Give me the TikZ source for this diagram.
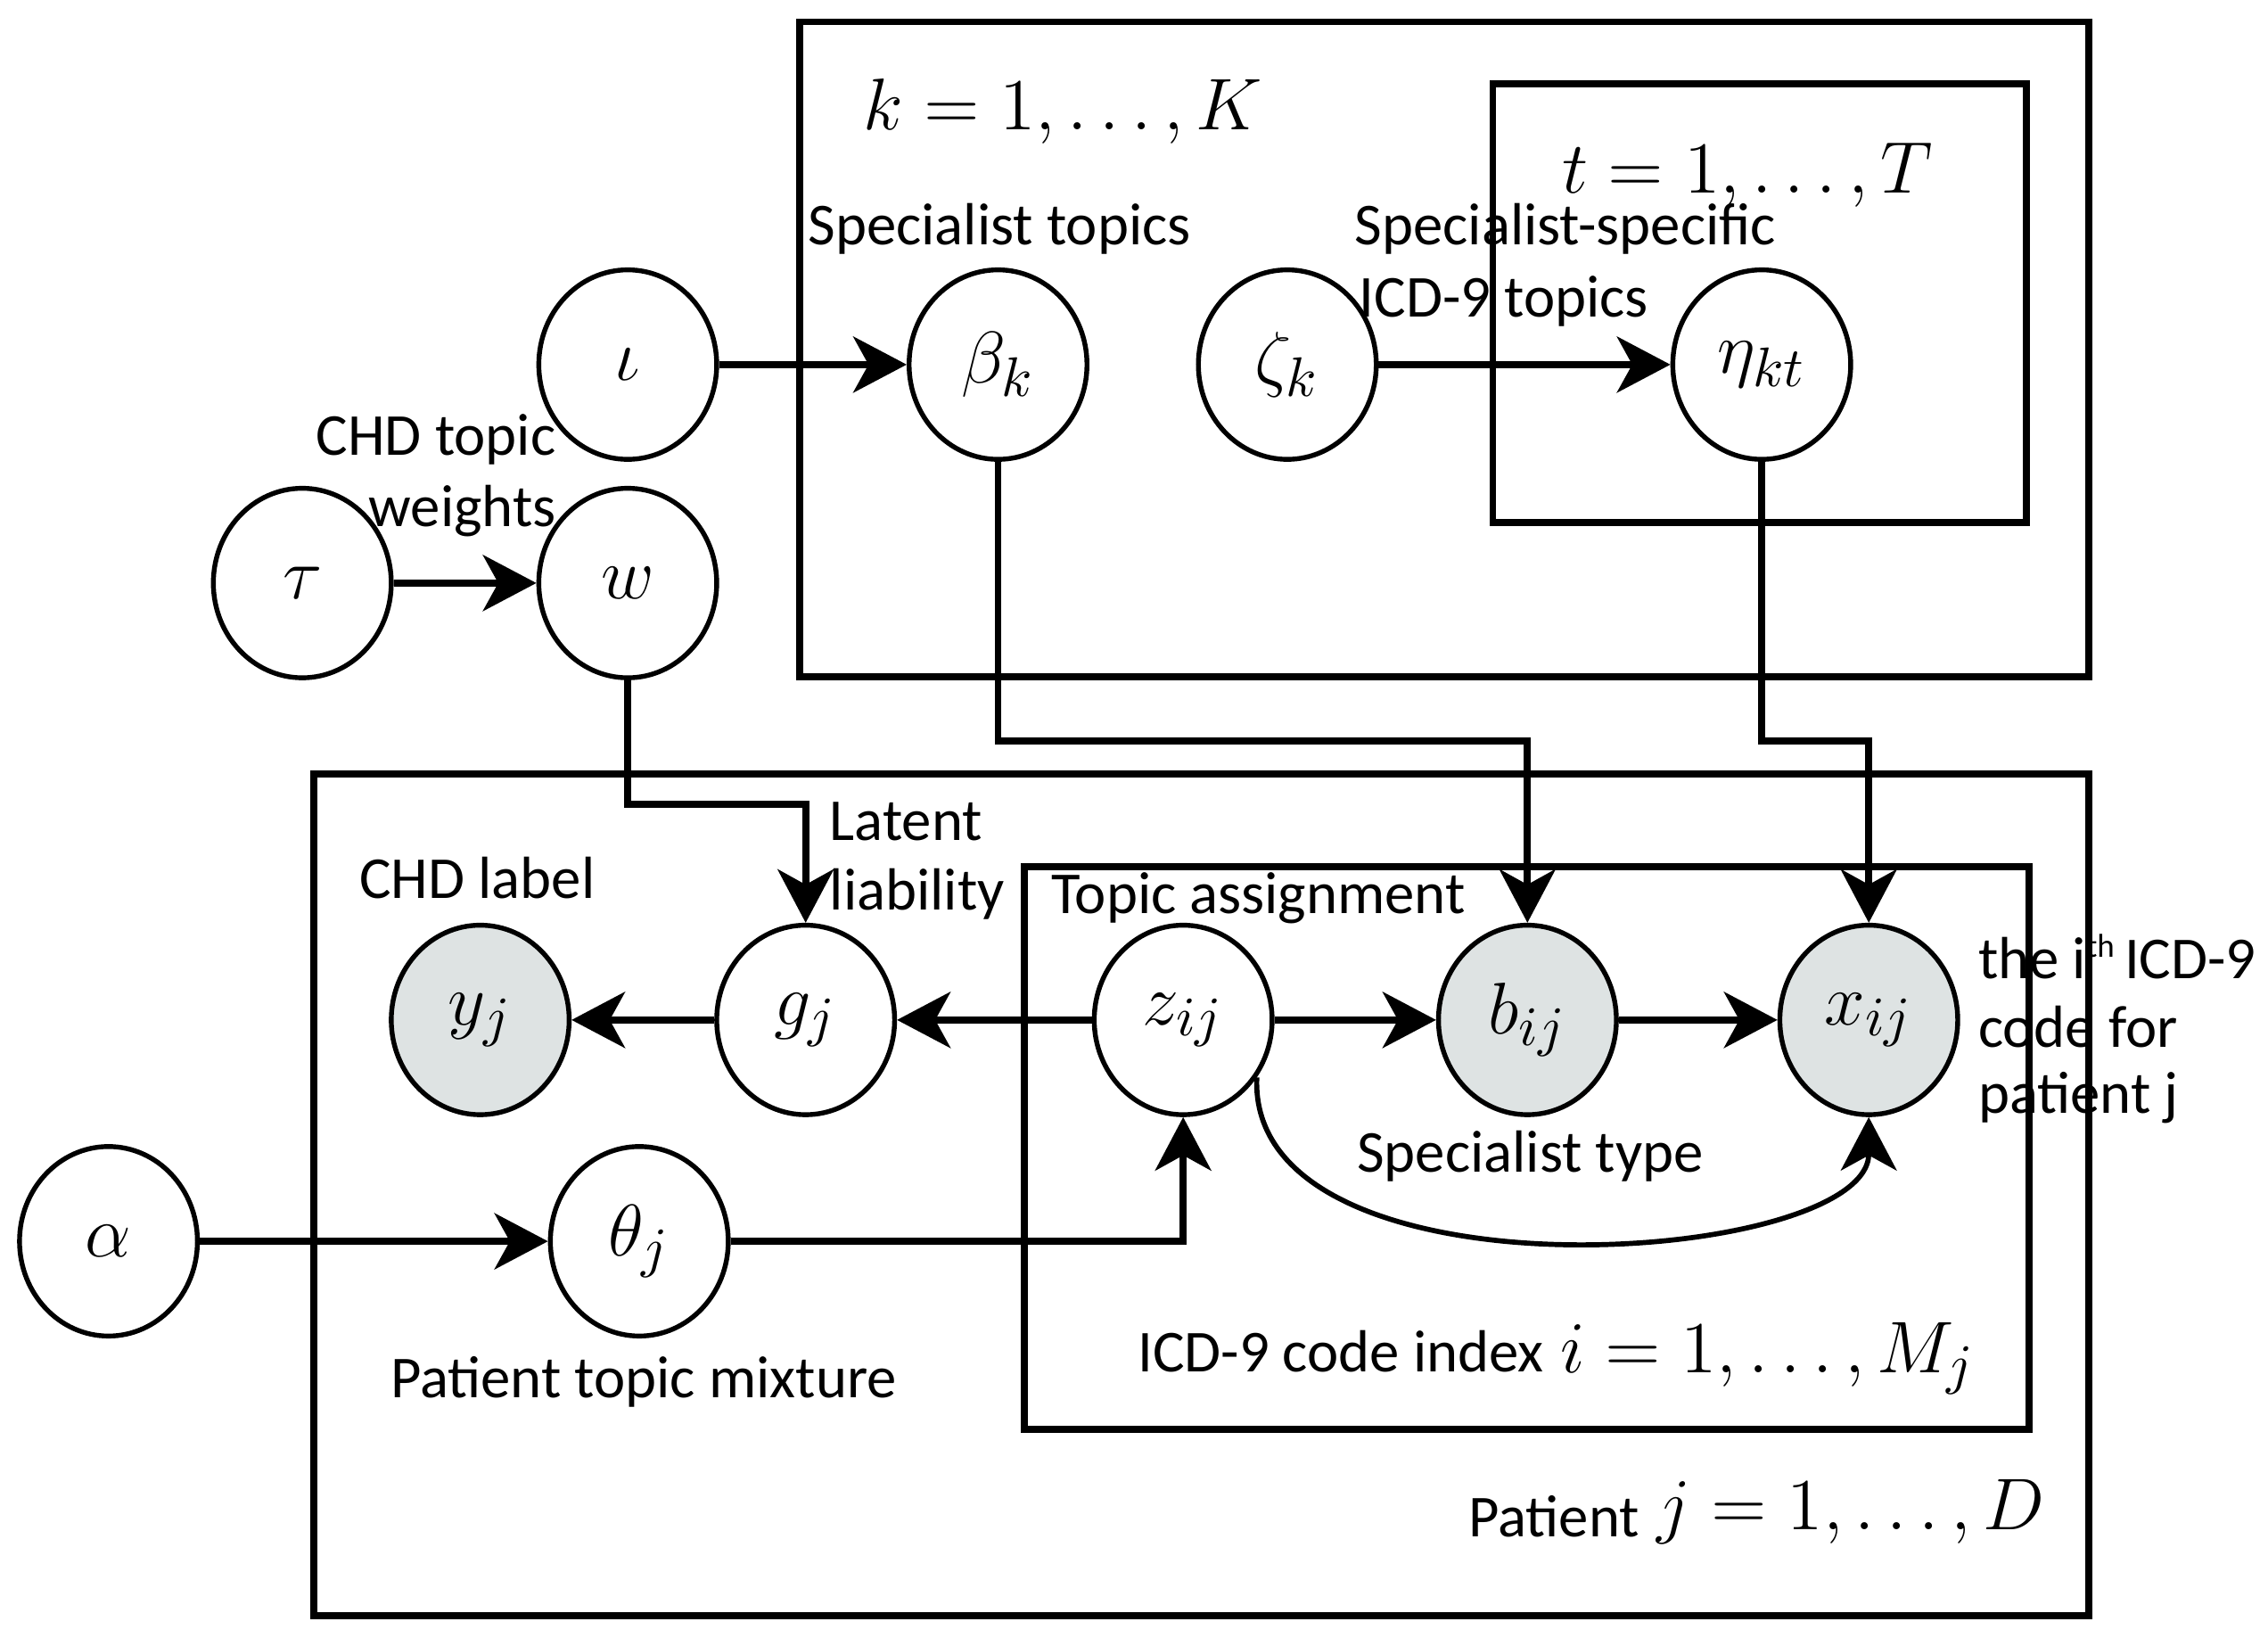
\documentclass[tikz,border=0pt]{standalone}
\usepackage{fontspec}
\setmainfont{Carlito}
\usetikzlibrary{shapes.geometric,arrows.meta,calc}
\definecolor{obsgray}{RGB}{222,227,227}
\begin{document}
\begin{tikzpicture}[x=0.1mm,y=-0.1mm,
  var/.style={ellipse,draw,line width=0.95pt,minimum width=12.3mm,minimum height=13.1mm,inner sep=0pt,font=\fontsize{15.5}{17}\selectfont},
  obs/.style={var,fill=obsgray},
  plate/.style={draw,line width=1.35pt},
  arr/.style={line width=1.35pt,-{Stealth[length=10.5pt,width=11pt,inset=3pt]}},
  lbl/.style={font=\fontsize{11.7}{13}\selectfont,inner sep=0pt},
  plbl/.style={font=\fontsize{15.6}{18}\selectfont,inner sep=0pt}]
\useasboundingbox (0,0) rectangle (1568,1132);
% plates
\draw[plate] (553,15) rectangle (1444,468);
\draw[plate] (1032,58) rectangle (1401,361);
\draw[plate] (217,535) rectangle (1444,1117);
\draw[plate] (708,599) rectangle (1403,988);
% plate labels
\node[plbl] (Klab) at (735,77) {$k=1,\ldots,K$};
\node[plbl] (Tlab) at (1208,121) {$t=1,\ldots,T$};
\node[lbl,anchor=east] (Mtxt) at (1068,934) {ICD-9 code index};
\node[plbl,anchor=west] (Mlab) at (1078,939) {$i=1,\ldots,M_j$};
\node[lbl,anchor=east] (Dtxt) at (1134,1048) {Patient};
\node[plbl,anchor=west] (Dlab) at (1145,1045) {$j=1,\ldots,D$};
% nodes
\node[var] (iota) at (434,252) {$\iota$};
\node[var] (beta) at (690,252) {$\beta_k$};
\node[var] (zeta) at (890,252) {$\zeta_k$};
\node[var] (eta) at (1218,252) {$\eta_{kt}$};
\node[var] (tau) at (209,403) {$\tau$};
\node[var] (w) at (434,403) {$w$};
\node[obs] (y) at (332,705) {$y_j$};
\node[var] (g) at (557,705) {$g_j$};
\node[var] (z) at (818,705) {$z_{ij}$};
\node[obs] (b) at (1056,705) {$b_{ij}$};
\node[obs] (x) at (1292,705) {$x_{ij}$};
\node[var] (alpha) at (75,858) {$\alpha$};
\node[var] (theta) at (442,858) {$\theta_j$};
% text labels
\node[lbl] (l1) at (691,158) {Specialist topics};
\node[lbl,anchor=west] (l2) at (936,158) {Specialist-specific};
\node[lbl,anchor=west] (l3) at (939,208) {ICD-9 topics};
\node[lbl,anchor=east] (l4) at (385,304) {CHD topic};
\node[lbl,anchor=east] (l5) at (385,353) {weights};
\node[lbl,anchor=west] (l6) at (573,568) {Latent};
\node[lbl,anchor=west] (l7) at (573,618) {liability};
\node[lbl] (l8) at (330,607) {CHD label};
\node[lbl] (l9) at (870,621) {Topic assignment};
\node[lbl] (l10) at (1058,799) {Specialist type};
\node[lbl,anchor=west] (l11) at (1367,661) {the i\raisebox{0.75ex}{\fontsize{6.5}{7}\selectfont th}\,ICD-9};
\node[lbl,anchor=west] (l12) at (1367,710) {code for};
\node[lbl,anchor=west] (l13) at (1367,759) {patient j};
\node[lbl] (l14) at (445,955) {Patient topic mixture};
% bend coordinates
\coordinate (wg) at (500,556);
\coordinate (bb) at (870,512);
\coordinate (ex) at (1250,512);
% edges
\draw[arr] (iota) -- (beta);
\draw[arr] (zeta) -- (eta);
\draw[arr] (tau) -- (w);
\draw[arr] (w) |- (wg) -| (g);
\draw[arr] (beta) |- (bb) -| (b);
\draw[arr] (eta) |- (ex) -| (x);
\draw[arr] (g) -- (y);
\draw[arr] (z) -- (g);
\draw[arr] (z) -- (b);
\draw[arr] (b) -- (x);
\draw[arr] (alpha) -- (theta);
\draw[arr] (theta) -| (z);
\draw[arr,line width=1pt] (z.-38) .. controls (862,905) and (1292,875) .. (x.south);
\end{tikzpicture}
\end{document}
